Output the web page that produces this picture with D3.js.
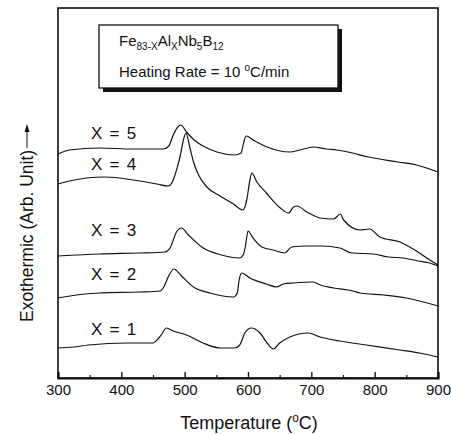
<!DOCTYPE html>
<html>
<head>
<meta charset="utf-8">
<script src="https://cdn.jsdelivr.net/npm/d3@7"></script>
<style>
  body { margin: 0; background: #fff; }
  text { font-family: "Liberation Sans", Arial, sans-serif; fill: #111; }
</style>
</head>
<body>
<div id="dsc"></div>
<script>
// DSC traces, Fe(83-x)Al(x)Nb5B12 (y in arbitrary units)
const series = ['X = 5', 'X = 4', 'X = 3', 'X = 2', 'X = 1']

const temp5 = [300, 318, 366, 418, 466, 475, 482, 489, 494, 503, 515, 532, 551, 579, 589, 593, 597, 608, 630, 666, 682, 703, 724, 740, 758, 790, 837, 866, 887, 900]
const val5  = [22.4, 22.8, 23.0, 22.9, 22.9, 23.2, 24.3, 25.1, 25.3, 24.6, 23.8, 23.1, 22.6, 22.3, 22.5, 23.5, 24.2, 23.8, 23.1, 22.6, 22.8, 23.1, 22.9, 22.8, 22.6, 22.1, 21.6, 21.3, 20.9, 20.6]

const temp4 = [300, 318, 345, 375, 419, 456, 474, 482, 488, 493, 498, 502, 508, 514, 522, 535, 556, 577, 592, 598, 603, 606, 614, 629, 651, 664, 672, 677, 693, 714, 735, 746, 751, 777, 792, 808, 840, 866, 887, 900]
const val4  = [19.4, 19.7, 20.0, 20.1, 19.8, 19.4, 19.2, 19.8, 21.0, 22.2, 23.8, 24.5, 23.1, 21.6, 20.3, 19.1, 18.2, 17.4, 16.8, 17.8, 19.8, 20.5, 19.6, 18.5, 17.0, 16.5, 17.1, 17.2, 16.6, 16.0, 15.9, 16.4, 15.8, 14.8, 14.9, 14.1, 13.6, 12.7, 11.8, 11.3]

const temp3 = [300, 366, 429, 469, 477, 482, 487, 495, 506, 527, 558, 587, 593, 596, 600, 608, 622, 640, 658, 669, 693, 716, 745, 764, 798, 822, 845, 869, 887, 900]
const val3  = [12.2, 12.4, 12.5, 12.6, 13.0, 13.8, 14.6, 15.0, 14.3, 13.1, 12.3, 12.0, 12.4, 13.2, 14.7, 14.0, 13.1, 12.8, 12.5, 13.1, 13.2, 13.2, 13.0, 12.5, 12.4, 12.1, 12.0, 11.7, 11.5, 11.2]

const temp2 = [300, 329, 366, 429, 461, 467, 474, 483, 495, 514, 540, 577, 583, 586, 590, 603, 629, 645, 656, 672, 703, 714, 735, 766, 777, 814, 850, 900]
const val2  = [8.0, 8.3, 8.5, 8.6, 8.7, 9.1, 10.1, 10.9, 10.2, 9.1, 8.5, 8.1, 8.5, 9.8, 10.5, 10.0, 9.4, 9.1, 9.4, 9.5, 9.6, 9.3, 9.0, 8.7, 8.5, 8.3, 8.0, 7.2]

const temp1 = [300, 324, 348, 411, 450, 458, 464, 471, 482, 503, 529, 556, 579, 587, 595, 605, 619, 629, 640, 650, 666, 695, 714, 745, 787, 840, 871, 900]
const val1  = [3.0, 3.1, 3.3, 3.5, 3.5, 3.9, 4.4, 5.0, 4.7, 4.3, 3.5, 3.0, 3.0, 3.3, 4.5, 5.0, 4.5, 3.6, 2.9, 3.5, 4.1, 4.5, 4.1, 3.7, 3.3, 2.8, 2.5, 2.1]

const majorTicks = [300, 400, 500, 600, 700, 800, 900]
const minorTicks = [350, 450, 550, 650, 750, 850]

const margin = {top: 8, right: 13, bottom: 56, left: 58}
const width = 451 - margin.left - margin.right
const height = 434 - margin.top - margin.bottom

const svg = d3.select('#dsc').append('svg')
    .attr('width', 451)
    .attr('height', 434)
const g = svg.append('g')
    .attr('transform', `translate(${margin.left}, ${margin.top})`)

const x = d3.scaleLinear().domain([300, 900]).range([0, width])
const y = d3.scaleLinear().domain([0, 37]).range([height, 0])

const traces = [
    {name: series[0], t: temp5, v: val5, labelAt: 23.9},
    {name: series[1], t: temp4, v: val4, labelAt: 20.8},
    {name: series[2], t: temp3, v: val3, labelAt: 14.2},
    {name: series[3], t: temp2, v: val2, labelAt: 9.8},
    {name: series[4], t: temp1, v: val1, labelAt: 4.3}
]

// frame
g.append('rect')
    .attr('x', 0).attr('y', 0)
    .attr('width', width).attr('height', height)
    .attr('fill', 'none')
    .attr('stroke', '#111')
    .attr('stroke-width', 1.6)

// bottom axis, ticks pointing inward
const xAxis = g.append('g')
    .attr('transform', `translate(0, ${height})`)
    .call(d3.axisBottom(x).tickValues(majorTicks).tickSize(-6).tickPadding(6).tickFormat(d3.format('d')))
xAxis.select('.domain').attr('stroke', '#111').attr('stroke-width', 2.2)
xAxis.selectAll('.tick line').attr('stroke', '#111').attr('stroke-width', 1.4)
xAxis.selectAll('.tick text').attr('font-size', 15).attr('fill', '#111')
    .attr('font-family', '"Liberation Sans", Arial, sans-serif')

g.append('g')
    .attr('transform', `translate(0, ${height})`)
    .call(d3.axisBottom(x).tickValues(minorTicks).tickSize(-3).tickFormat(''))
    .call(a => a.select('.domain').remove())
    .selectAll('.tick line').attr('stroke', '#111').attr('stroke-width', 1.2)

// traces
const line = d3.line()
    .x(d => x(d[0]))
    .y(d => y(d[1]))
    .curve(d3.curveMonotoneX)

traces.forEach(tr => {
    g.append('path')
        .datum(tr.t.map((t, i) => [t, tr.v[i]]))
        .attr('d', line)
        .attr('fill', 'none')
        .attr('stroke', '#111')
        .attr('stroke-width', 1.2)
    g.append('text')
        .attr('x', x(352))
        .attr('y', y(tr.labelAt))
        .attr('font-size', 17)
        .attr('letter-spacing', 1.3)
        .attr('xml:space', 'preserve')
        .text(tr.name)
})

// legend box with drop shadow
const box = {x: 99 - margin.left, y: 25 - margin.top, w: 239, h: 63}
g.append('rect')
    .attr('x', box.x + 4).attr('y', box.y + 4)
    .attr('width', box.w).attr('height', box.h)
    .attr('fill', '#111')
g.append('rect')
    .attr('x', box.x).attr('y', box.y)
    .attr('width', box.w).attr('height', box.h)
    .attr('fill', '#fff')
    .attr('stroke', '#111')
    .attr('stroke-width', 1.3)

const formula = g.append('text')
    .attr('x', box.x + 20)
    .attr('y', box.y + 21)
    .attr('font-size', 15)
const parts = [['Fe', '83-X'], ['Al', 'X'], ['Nb', '5'], ['B', '12']]
parts.forEach(([el, sub], i) => {
    formula.append('tspan').attr('dy', i === 0 ? 0 : -4).text(el)
    formula.append('tspan').attr('dy', 4).attr('font-size', 10).text(sub)
})

const rate = g.append('text')
    .attr('x', box.x + 20)
    .attr('y', box.y + 52)
    .attr('font-size', 15)
rate.append('tspan').text('Heating Rate = 10 ')
rate.append('tspan').attr('dy', -6).attr('font-size', 10).text('o')
rate.append('tspan').attr('dy', 6).text('C/min')

// axis titles
const xt = svg.append('text')
    .attr('x', margin.left + width / 2 + 1)
    .attr('y', 429)
    .attr('text-anchor', 'middle')
    .attr('font-size', 18)
xt.append('tspan').text('Temperature (')
xt.append('tspan').attr('dy', -7).attr('font-size', 12).text('o')
xt.append('tspan').attr('dy', 7).text('C)')

const yt = svg.append('text')
    .attr('transform', 'translate(33, 322) rotate(-90)')
    .attr('font-size', 17.5)
    .text('Exothermic (Arb. Unit)')

// arrow after the y title
const titleLen = yt.node().getComputedTextLength()
const ay0 = 322 - titleLen - 2
svg.append('line')
    .attr('x1', 27).attr('x2', 27)
    .attr('y1', ay0).attr('y2', ay0 - 18)
    .attr('stroke', '#111').attr('stroke-width', 1)
svg.append('path')
    .attr('d', `M27,${ay0 - 24} L24.5,${ay0 - 16} L29.5,${ay0 - 16} Z`)
    .attr('fill', '#111')
</script>
</body>
</html>
